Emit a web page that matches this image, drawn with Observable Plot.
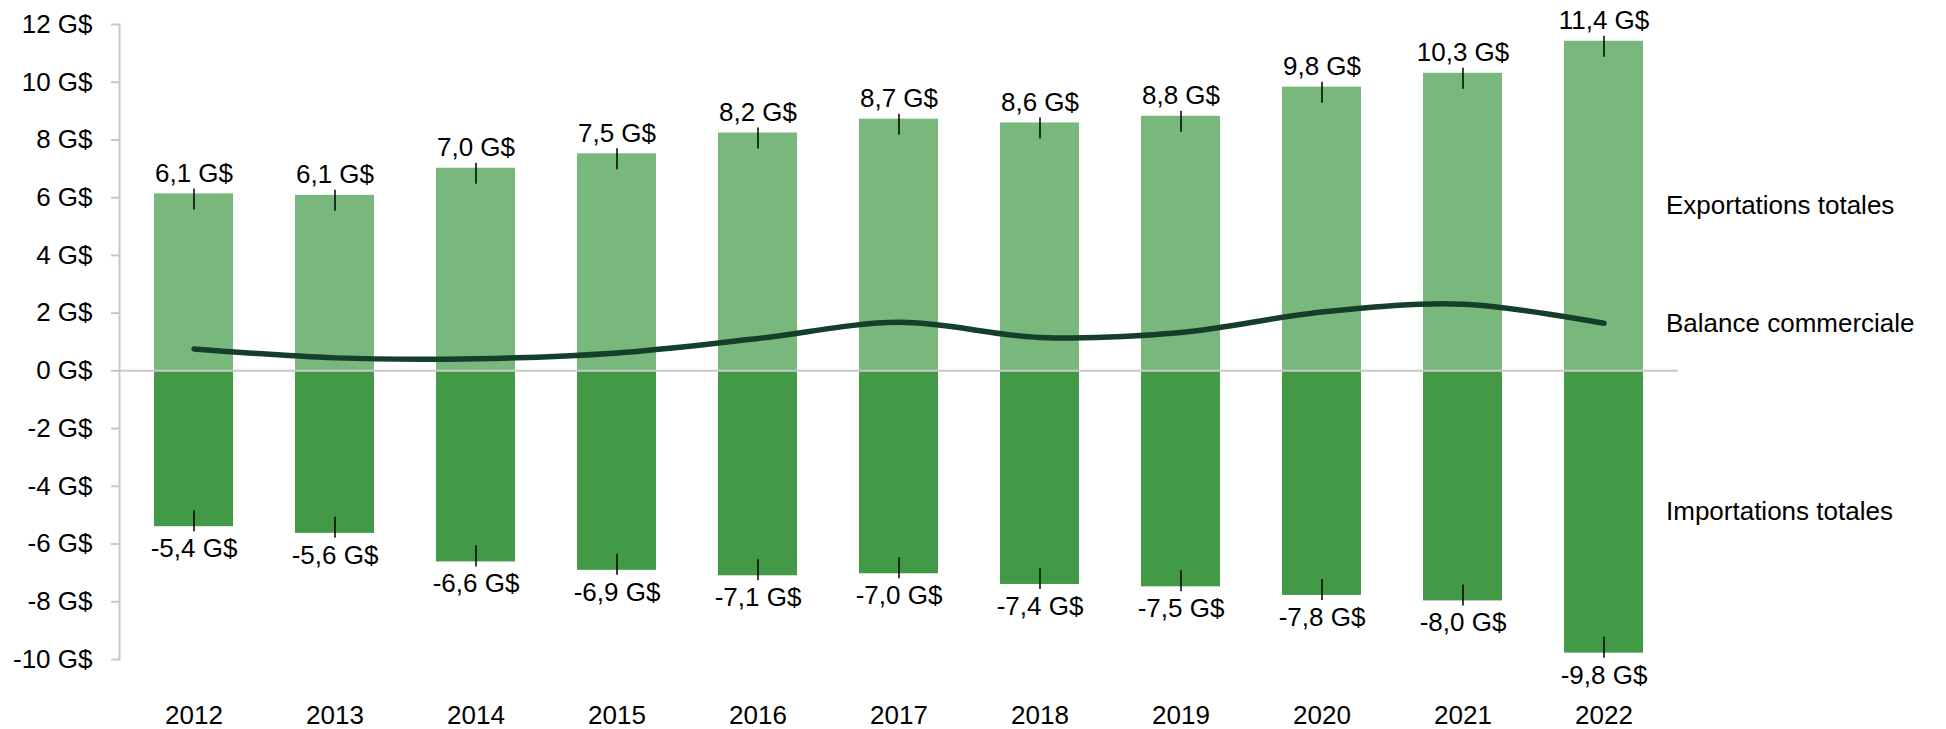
<!DOCTYPE html>
<html>
<head>
<meta charset="utf-8">
<script src="https://cdn.jsdelivr.net/npm/d3@7"></script>
<script src="https://cdn.jsdelivr.net/npm/@observablehq/plot@0.6"></script>
<style>
  html, body { margin: 0; padding: 0; background: #fff; }
  #chart svg { display: block; }
</style>
</head>
<body>
<div id="chart"></div>
<script>
const years = ["2012","2013","2014","2015","2016","2017","2018","2019","2020","2021","2022"];
const exportsValues = [6.13, 6.08, 7.02, 7.52, 8.24, 8.72, 8.59, 8.82, 9.83, 10.31, 11.42];
const importsValues = [-5.40, -5.63, -6.62, -6.91, -7.10, -7.03, -7.40, -7.48, -7.78, -7.97, -9.78];
const balanceValues = [0.76, 0.45, 0.42, 0.62, 1.12, 1.68, 1.16, 1.33, 2.04, 2.31, 1.65];
const yTicks = [-10, -8, -6, -4, -2, 0, 2, 4, 6, 8, 10, 12];
const seriesLabels = ["Exportations totales", "Balance commerciale", "Importations totales"];

const colors = { exports: "#79b87d", imports: "#429a47", balance: "#153f2b", axis: "#c8c8c8" };

const exportsData = years.map((year, i) => ({ year, value: exportsValues[i] }));
const importsData = years.map((year, i) => ({ year, value: importsValues[i] }));
const balanceData = years.map((year, i) => ({ year, value: balanceValues[i] }));
const last = years.length - 1;
const seriesLabelData = [
  { year: years[last], value: exportsValues[last] / 2, label: seriesLabels[0] },
  { year: years[last], value: balanceValues[last], label: seriesLabels[1] },
  { year: years[last], value: importsValues[last] / 2, label: seriesLabels[2] }
];

const fmt = v => d3.format(".1f")(v).replace("\u2212", "-").replace(".", ",") + " G$";

const chart = Plot.plot({
  width: 1946,
  height: 729,
  marginLeft: 119,
  marginRight: 268,
  marginTop: 24,
  marginBottom: 70,
  style: { fontFamily: "'Liberation Sans', Arial, sans-serif", fontSize: "26px", color: "#000", background: "#fff" },
  x: { domain: years, paddingInner: 0.44, paddingOuter: 0.22, label: null },
  y: { domain: [-10, 12], label: null },
  marks: [
    Plot.frame({ anchor: "left", stroke: colors.axis, strokeWidth: 2 }),
    Plot.axisY({ ticks: yTicks, tickFormat: d => `${d} G$`, tickSize: 8, tickPadding: 19, stroke: colors.axis, strokeWidth: 2, fill: "#000", label: null }),
    Plot.axisX({ tickSize: 0, tickPadding: 46, fill: "#000", label: null }),
    Plot.barY(exportsData, { x: "year", y: "value", fill: colors.exports }),
    Plot.barY(importsData, { x: "year", y: "value", fill: colors.imports }),
    Plot.ruleY([0], { stroke: colors.axis, strokeWidth: 2 }),
    Plot.ruleX(exportsData, { x: "year", y1: "value", y2: "value", insetTop: -5, insetBottom: -16, stroke: "#000", strokeWidth: 1.5 }),
    Plot.ruleX(importsData, { x: "year", y1: "value", y2: "value", insetTop: -16, insetBottom: -5, stroke: "#000", strokeWidth: 1.5 }),
    Plot.text(exportsData, { x: "year", y: "value", text: d => fmt(d.value), lineAnchor: "bottom", dy: -12, fill: "#000" }),
    Plot.text(importsData, { x: "year", y: "value", text: d => fmt(d.value), lineAnchor: "top", dy: 12, fill: "#000" }),
    Plot.line(balanceData, { x: "year", y: "value", stroke: colors.balance, strokeWidth: 5.5, curve: "catmull-rom", strokeLinecap: "round" }),
    Plot.text(seriesLabelData, { x: "year", y: "value", text: "label", textAnchor: "start", lineAnchor: "middle", dx: 62, fill: "#000" })
  ]
});
document.getElementById("chart").appendChild(chart);
</script>
</body>
</html>
